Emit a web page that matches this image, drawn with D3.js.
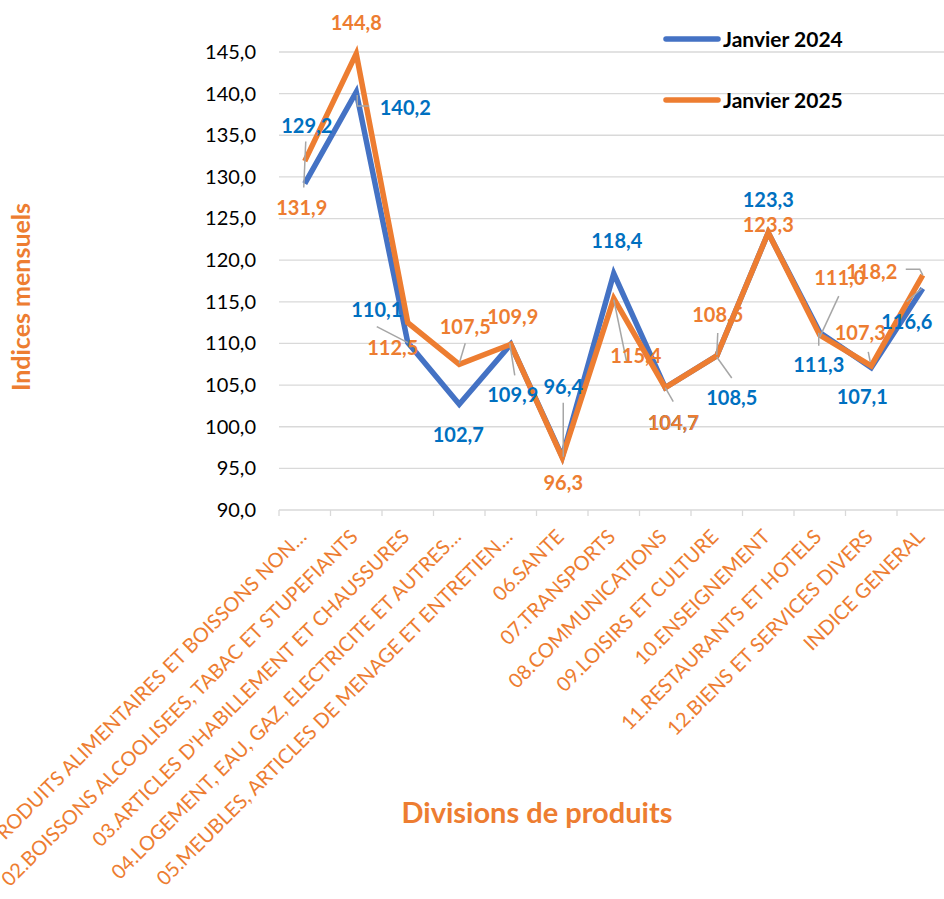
<!DOCTYPE html>
<html>
<head>
<meta charset="utf-8">
<script src="https://cdn.jsdelivr.net/npm/d3@7"></script>
<style>
  body { margin: 0; background: #fff; }
  svg { display: block; font-family: Lato, "Open Sans", sans-serif; }
</style>
</head>
<body>
<svg width="944" height="899"></svg>
<script>
var categories = [
  "01.PRODUITS ALIMENTAIRES ET BOISSONS NON…",
  "02.BOISSONS ALCOOLISEES, TABAC ET STUPEFIANTS",
  "03.ARTICLES D'HABILLEMENT ET CHAUSSURES",
  "04.LOGEMENT, EAU, GAZ, ELECTRICITE ET AUTRES…",
  "05.MEUBLES, ARTICLES DE MENAGE ET ENTRETIEN…",
  "06.SANTE",
  "07.TRANSPORTS",
  "08.COMMUNICATIONS",
  "09.LOISIRS ET CULTURE",
  "10.ENSEIGNEMENT",
  "11.RESTAURANTS ET HOTELS",
  "12.BIENS ET SERVICES DIVERS",
  "INDICE GENERAL"
];
var janvier2024 = [129.2, 140.2, 110.1, 102.7, 109.9, 96.4, 118.4, 104.7, 108.5, 123.3, 111.3, 107.1, 116.6];
var janvier2025 = [131.9, 144.8, 112.5, 107.5, 109.9, 96.3, 115.4, 104.7, 108.5, 123.3, 111.0, 107.3, 118.2];
var yTicks = [90, 95, 100, 105, 110, 115, 120, 125, 130, 135, 140, 145];

// label placement (offset from the point) and leader lines, as in the source chart
var blueOff = [[2,-58],[49,16],[-31,-33],[-1,31],[2,51],[1,-70],[3,-33],[8,35],[15,42],[0,-33],[-1,32],[-9,29],[-16,33]];
var orangeOff = [[-3,47],[0,-31],[-15,25],[6,-37],[2,-27],[1,25],[22,57],[8,35],[1,-41],[0,-8],[20,-57],[-11,-33],[-51,-3]];
var blueLeader = [[[1,-42],[-1,4]], [[1,3],[1,14],[13,14]], [[-31,-16],[0,0]], null, [[-1,-1],[4,31]],
  [[1,-54],[1,0]], null, null, [[0,1],[15,22]], null, [[-1,0],[-1,13]], null, [[-16,13],[-1,0]]];
var orangeLeader = [null, null, null, [[6,-21],[0,-1]], null, null, [[0,1],[13,64]], [[0,0],[8,14]],
  [[1,-23],[0,-1]], null, [[19,-39],[0,2]], [[-3,-14],[-1,-4]], [[-17,-6],[-3,-6],[0,0]]];

var blue = "#4472C4", orange = "#ED7D31", blueText = "#0070C0", grey = "#A6A6A6";

var svg = d3.select("svg");
var x = d3.scaleBand().domain(categories).range([279, 279 + 13 * 51.5]),
    y = d3.scaleLinear().domain([90, 145]).range([510, 52]);
var cx = function(i) { return x(categories[i]) + x.bandwidth() / 2; };
var fmt = function(v) { return d3.format(".1f")(v).replace(".", ","); };

// gridlines
svg.append("g").selectAll("line")
  .data(yTicks.slice(1))
  .join("line")
    .attr("x1", 279).attr("x2", 944)
    .attr("y1", d => y(d)).attr("y2", d => y(d))
    .attr("stroke", "#D9D9D9").attr("stroke-width", 1.3);

// y axis
var yAxisG = svg.append("g")
    .attr("transform", "translate(279,0)")
    .call(d3.axisLeft(y).tickValues(yTicks).tickFormat(fmt).tickSize(0).tickPadding(23));
yAxisG.select(".domain").remove();
yAxisG.selectAll("text").attr("font-size", 20).attr("fill", "#000").attr("font-family", "Lato");

// x axis line + boundary ticks
svg.append("line").attr("x1", 279).attr("x2", 944).attr("y1", 510).attr("y2", 510)
  .attr("stroke", "#D9D9D9").attr("stroke-width", 1.3);
svg.append("g").selectAll("line")
  .data(categories)
  .join("line")
    .attr("x1", d => x(d)).attr("x2", d => x(d))
    .attr("y1", 510).attr("y2", 516)
    .attr("stroke", "#D9D9D9").attr("stroke-width", 1.3);

svg.append("g").selectAll("text")
  .data(categories)
  .join("text")
    .attr("transform", (d, i) => "translate(" + (cx(i) + 3) + ",538) rotate(-45)")
    .attr("text-anchor", "end")
    .attr("font-size", 20)
    .attr("fill", orange)
    .text(d => d);

// lines
var line = d3.line().x((d, i) => cx(i)).y(d => y(d));
svg.append("path").datum(janvier2024).attr("d", line)
  .attr("fill", "none").attr("stroke", blue).attr("stroke-width", 5.5);
svg.append("path").datum(janvier2025).attr("d", line)
  .attr("fill", "none").attr("stroke", orange).attr("stroke-width", 5.5);

// leader lines
function leaders(values, lead) {
  svg.append("g").selectAll("polyline")
    .data(values.map((v, i) => ({v: v, i: i, l: lead[i]})).filter(d => d.l))
    .join("polyline")
      .attr("points", d => d.l.map(p => (cx(d.i) + p[0]) + "," + (y(d.v) + p[1])).join(" "))
      .attr("fill", "none").attr("stroke", grey).attr("stroke-width", 1.5);
}
leaders(janvier2024, blueLeader);
leaders(janvier2025, orangeLeader);

// data labels
function labels(values, off, color) {
  return svg.append("g").selectAll("text")
    .data(values)
    .join("text")
      .attr("x", (d, i) => cx(i) + off[i][0])
      .attr("y", (d, i) => y(d) + off[i][1])
      .attr("dy", "0.36em")
      .attr("text-anchor", "middle")
      .attr("font-size", 20).attr("font-weight", "bold")
      .attr("fill", color)
      .text(fmt);
}
var blueLabels = labels(janvier2024, blueOff, blueText);
labels(janvier2025, orangeOff, orange);
// the last blue label sits above the orange one, as in the source
blueLabels.filter((d, i) => i === 12).each(function() { this.parentNode.parentNode.appendChild(this); });

// legend
var legend = [["Janvier 2024", blue, 39], ["Janvier 2025", orange, 100]];
legend.forEach(function(l) {
  svg.append("line").attr("x1", 666).attr("x2", 718).attr("y1", l[2]).attr("y2", l[2])
    .attr("stroke", l[1]).attr("stroke-width", 5.5).attr("stroke-linecap", "round");
  svg.append("text").attr("x", 723).attr("y", l[2]).attr("dy", "0.36em")
    .attr("font-size", 21).attr("font-weight", "bold").attr("fill", "#000").text(l[0]);
});

// axis titles
svg.append("text")
  .attr("transform", "translate(30,297) rotate(-90)")
  .attr("text-anchor", "middle")
  .attr("font-size", 25).attr("font-weight", "bold").attr("fill", orange)
  .text("Indices mensuels");
svg.append("text")
  .attr("x", 537).attr("y", 823)
  .attr("text-anchor", "middle")
  .attr("font-size", 29).attr("font-weight", "bold").attr("fill", orange)
  .text("Divisions de produits");
</script>
</body>
</html>
